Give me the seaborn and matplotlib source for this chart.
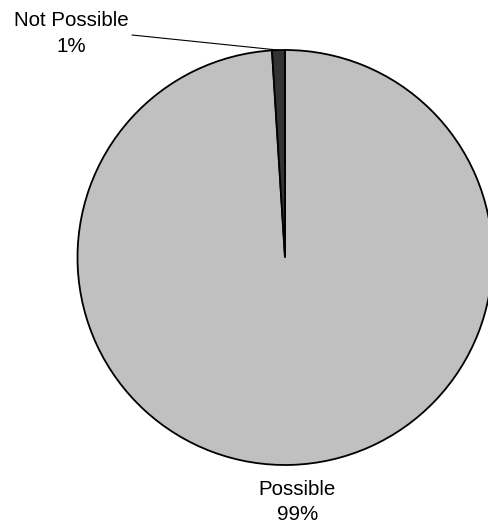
import numpy as np
import matplotlib
matplotlib.use("Agg")
import matplotlib.pyplot as plt
import seaborn as sns

categories = ["Possible", "Not Possible"]
values = [99, 1]
colors = ["#C0C0C0", "#333333"]

sns.set_theme(style="white")
plt.rcParams['font.family'] = ['Liberation Sans', 'DejaVu Sans']

W, H = 488, 529
fig = plt.figure(figsize=(W / 100, H / 100), dpi=100)
ax = fig.add_axes([0, 0, 1, 1])

cx, cy, r = 285.0, H - 257.5, 207.5
wedges, _ = ax.pie(values, colors=colors, startangle=90, counterclock=False,
                   center=(cx, cy), radius=r, frame=True,
                   wedgeprops=dict(edgecolor="black", linewidth=1.3))
ax.set_xlim(0, W)
ax.set_ylim(0, H)
ax.set_aspect("equal")
ax.axis("off")

total = sum(values)
fs = 14.8
# Possible label below the pie
ax.text(297.5, H - 502, f"{categories[0]}\n{values[0] / total * 100:.0f}%",
        ha="center", va="center", fontsize=fs, linespacing=1.45, color="black")
# Not Possible label top-left with leader line
ax.text(71, H - 33.5, f"{categories[1]}\n{values[1] / total * 100:.0f}%",
        ha="center", va="center", fontsize=fs, linespacing=1.45, color="black")
w = wedges[1]
mid = np.deg2rad((w.theta1 + w.theta2) / 2)
ex, ey = cx + r * np.cos(mid), cy + r * np.sin(mid)
ax.plot([132, ex], [H - 35, ey], color="black", linewidth=0.8)

fig.savefig("out.png", dpi=100)
